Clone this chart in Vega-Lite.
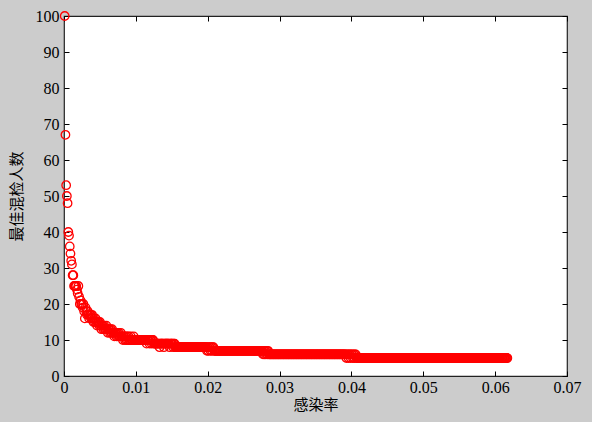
{
"$schema": "https://vega.github.io/schema/vega-lite/v6.json",
"width": 503,
"height": 360,
"autosize": {"type": "none"},
"padding": {"left": 64, "top": 16, "right": 25, "bottom": 46},
"background": "#cccccc",
"view": {"fill": "white", "stroke": "#222222", "strokeWidth": 1.2},
"config": {
  "axis": {"domain": false, "grid": false, "ticks": true, "tickColor": "black", "tickSize": -5, "tickWidth": 1, "labelFont": "Liberation Serif", "labelFontSize": 16, "labelColor": "black", "labelFlush": false, "labelOverlap": false, "titleFont": "Noto Sans CJK SC", "titleFontSize": 15, "titleFontWeight": "normal", "titleColor": "black"}
},
"layer": [
  {
    "data": {"values": [
{"p":0.0001,"k":100},{"p":0.0002,"k":67},{"p":0.0003,"k":53},{"p":0.0004,"k":50},{"p":0.0005,"k":48},{"p":0.0006,"k":40},{"p":0.0007,"k":39},{"p":0.0008,"k":36},{"p":0.0009,"k":34},{"p":0.0010,"k":32},
{"p":0.0011,"k":31},{"p":0.0012,"k":28},{"p":0.0013,"k":28},{"p":0.0014,"k":25},{"p":0.0015,"k":25},{"p":0.0016,"k":25},{"p":0.0017,"k":25},{"p":0.0018,"k":24},{"p":0.0019,"k":23},{"p":0.0020,"k":25},
{"p":0.0021,"k":22},{"p":0.0022,"k":20},{"p":0.0023,"k":21},{"p":0.0024,"k":20},{"p":0.0025,"k":20},{"p":0.0026,"k":19},{"p":0.0027,"k":20},{"p":0.0028,"k":18},{"p":0.0029,"k":16},{"p":0.0030,"k":19},
{"p":0.0031,"k":18},{"p":0.0032,"k":17},{"p":0.0033,"k":18},{"p":0.0034,"k":17},{"p":0.0035,"k":16},{"p":0.0036,"k":17},{"p":0.0037,"k":17},{"p":0.0038,"k":16},{"p":0.0039,"k":17},{"p":0.0040,"k":16},
{"p":0.0041,"k":15},{"p":0.0042,"k":16},{"p":0.0043,"k":15},{"p":0.0044,"k":16},{"p":0.0045,"k":15},{"p":0.0046,"k":14},{"p":0.0047,"k":15},{"p":0.0048,"k":15},{"p":0.0049,"k":14},{"p":0.0050,"k":15},
{"p":0.0051,"k":14},{"p":0.0052,"k":13},{"p":0.0053,"k":14},{"p":0.0054,"k":14},{"p":0.0055,"k":13},{"p":0.0056,"k":14},{"p":0.0057,"k":13},{"p":0.0058,"k":13},{"p":0.0059,"k":14},{"p":0.0060,"k":13},
{"p":0.0061,"k":12},{"p":0.0062,"k":13},{"p":0.0063,"k":13},{"p":0.0064,"k":12},{"p":0.0065,"k":13},{"p":0.0066,"k":12},{"p":0.0067,"k":13},{"p":0.0068,"k":12},{"p":0.0069,"k":12},{"p":0.0070,"k":11},
{"p":0.0071,"k":12},{"p":0.0072,"k":12},{"p":0.0073,"k":11},{"p":0.0074,"k":12},{"p":0.0075,"k":11},{"p":0.0076,"k":12},{"p":0.0077,"k":11},{"p":0.0078,"k":11},{"p":0.0079,"k":12},{"p":0.0080,"k":11},
{"p":0.0081,"k":11},{"p":0.0082,"k":10},{"p":0.0083,"k":11},{"p":0.0084,"k":11},{"p":0.0085,"k":10},{"p":0.0086,"k":11},{"p":0.0087,"k":10},{"p":0.0088,"k":11},{"p":0.0089,"k":10},{"p":0.0090,"k":11},
{"p":0.0091,"k":10},{"p":0.0092,"k":10},{"p":0.0093,"k":11},{"p":0.0094,"k":10},{"p":0.0095,"k":10},{"p":0.0096,"k":10},{"p":0.0097,"k":11},{"p":0.0098,"k":10},{"p":0.0099,"k":10},{"p":0.0100,"k":10},
{"p":0.0101,"k":10},{"p":0.0102,"k":10},{"p":0.0103,"k":10},{"p":0.0104,"k":10},{"p":0.0105,"k":10},{"p":0.0106,"k":10},{"p":0.0107,"k":10},{"p":0.0108,"k":10},{"p":0.0109,"k":10},{"p":0.0110,"k":10},
{"p":0.0111,"k":10},{"p":0.0112,"k":10},{"p":0.0113,"k":10},{"p":0.0114,"k":10},{"p":0.0115,"k":9},{"p":0.0116,"k":10},{"p":0.0117,"k":10},{"p":0.0118,"k":10},{"p":0.0119,"k":9},{"p":0.0120,"k":10},
{"p":0.0121,"k":10},{"p":0.0122,"k":9},{"p":0.0123,"k":10},{"p":0.0124,"k":10},{"p":0.0125,"k":9},{"p":0.0126,"k":9},{"p":0.0127,"k":9},{"p":0.0128,"k":9},{"p":0.0129,"k":9},{"p":0.0130,"k":9},
{"p":0.0131,"k":9},{"p":0.0132,"k":9},{"p":0.0133,"k":8},{"p":0.0134,"k":9},{"p":0.0135,"k":9},{"p":0.0136,"k":9},{"p":0.0137,"k":9},{"p":0.0138,"k":9},{"p":0.0139,"k":8},{"p":0.0140,"k":9},
{"p":0.0141,"k":9},{"p":0.0142,"k":9},{"p":0.0143,"k":9},{"p":0.0144,"k":9},{"p":0.0145,"k":9},{"p":0.0146,"k":9},{"p":0.0147,"k":8},{"p":0.0148,"k":9},{"p":0.0149,"k":9},{"p":0.0150,"k":9},
{"p":0.0151,"k":9},{"p":0.0152,"k":8},{"p":0.0153,"k":9},{"p":0.0154,"k":9},{"p":0.0155,"k":8},{"p":0.0156,"k":8},{"p":0.0157,"k":8},{"p":0.0158,"k":8},{"p":0.0159,"k":8},{"p":0.0160,"k":8},
{"p":0.0161,"k":8},{"p":0.0162,"k":8},{"p":0.0163,"k":8},{"p":0.0164,"k":8},{"p":0.0165,"k":8},{"p":0.0166,"k":8},{"p":0.0167,"k":8},{"p":0.0168,"k":8},{"p":0.0169,"k":8},{"p":0.0170,"k":8},
{"p":0.0171,"k":8},{"p":0.0172,"k":8},{"p":0.0173,"k":8},{"p":0.0174,"k":8},{"p":0.0175,"k":8},{"p":0.0176,"k":8},{"p":0.0177,"k":8},{"p":0.0178,"k":8},{"p":0.0179,"k":8},{"p":0.0180,"k":8},
{"p":0.0181,"k":8},{"p":0.0182,"k":8},{"p":0.0183,"k":8},{"p":0.0184,"k":8},{"p":0.0185,"k":8},{"p":0.0186,"k":8},{"p":0.0187,"k":8},{"p":0.0188,"k":8},{"p":0.0189,"k":8},{"p":0.0190,"k":8},
{"p":0.0191,"k":8},{"p":0.0192,"k":8},{"p":0.0193,"k":8},{"p":0.0194,"k":8},{"p":0.0195,"k":8},{"p":0.0196,"k":8},{"p":0.0197,"k":8},{"p":0.0198,"k":8},{"p":0.0199,"k":7},{"p":0.0200,"k":8},
{"p":0.0201,"k":7},{"p":0.0202,"k":8},{"p":0.0203,"k":8},{"p":0.0204,"k":7},{"p":0.0205,"k":8},{"p":0.0206,"k":7},{"p":0.0207,"k":8},{"p":0.0208,"k":8},{"p":0.0209,"k":7},{"p":0.0210,"k":7},
{"p":0.0211,"k":7},{"p":0.0212,"k":7},{"p":0.0213,"k":7},{"p":0.0214,"k":7},{"p":0.0215,"k":7},{"p":0.0216,"k":7},{"p":0.0217,"k":7},{"p":0.0218,"k":7},{"p":0.0219,"k":7},{"p":0.0220,"k":7},
{"p":0.0221,"k":7},{"p":0.0222,"k":7},{"p":0.0223,"k":7},{"p":0.0224,"k":7},{"p":0.0225,"k":7},{"p":0.0226,"k":7},{"p":0.0227,"k":7},{"p":0.0228,"k":7},{"p":0.0229,"k":7},{"p":0.0230,"k":7},
{"p":0.0231,"k":7},{"p":0.0232,"k":7},{"p":0.0233,"k":7},{"p":0.0234,"k":7},{"p":0.0235,"k":7},{"p":0.0236,"k":7},{"p":0.0237,"k":7},{"p":0.0238,"k":7},{"p":0.0239,"k":7},{"p":0.0240,"k":7},
{"p":0.0241,"k":7},{"p":0.0242,"k":7},{"p":0.0243,"k":7},{"p":0.0244,"k":7},{"p":0.0245,"k":7},{"p":0.0246,"k":7},{"p":0.0247,"k":7},{"p":0.0248,"k":7},{"p":0.0249,"k":7},{"p":0.0250,"k":7},
{"p":0.0251,"k":7},{"p":0.0252,"k":7},{"p":0.0253,"k":7},{"p":0.0254,"k":7},{"p":0.0255,"k":7},{"p":0.0256,"k":7},{"p":0.0257,"k":7},{"p":0.0258,"k":7},{"p":0.0259,"k":7},{"p":0.0260,"k":7},
{"p":0.0261,"k":7},{"p":0.0262,"k":7},{"p":0.0263,"k":7},{"p":0.0264,"k":7},{"p":0.0265,"k":7},{"p":0.0266,"k":7},{"p":0.0267,"k":7},{"p":0.0268,"k":7},{"p":0.0269,"k":7},{"p":0.0270,"k":7},
{"p":0.0271,"k":7},{"p":0.0272,"k":7},{"p":0.0273,"k":7},{"p":0.0274,"k":7},{"p":0.0275,"k":7},{"p":0.0276,"k":7},{"p":0.0277,"k":6},{"p":0.0278,"k":7},{"p":0.0279,"k":6},{"p":0.0280,"k":7},
{"p":0.0281,"k":6},{"p":0.0282,"k":7},{"p":0.0283,"k":6},{"p":0.0284,"k":7},{"p":0.0285,"k":6},{"p":0.0286,"k":6},{"p":0.0287,"k":6},{"p":0.0288,"k":6},{"p":0.0289,"k":6},{"p":0.0290,"k":6},
{"p":0.0291,"k":6},{"p":0.0292,"k":6},{"p":0.0293,"k":6},{"p":0.0294,"k":6},{"p":0.0295,"k":6},{"p":0.0296,"k":6},{"p":0.0297,"k":6},{"p":0.0298,"k":6},{"p":0.0299,"k":6},{"p":0.0300,"k":6},
{"p":0.0301,"k":6},{"p":0.0302,"k":6},{"p":0.0303,"k":6},{"p":0.0304,"k":6},{"p":0.0305,"k":6},{"p":0.0306,"k":6},{"p":0.0307,"k":6},{"p":0.0308,"k":6},{"p":0.0309,"k":6},{"p":0.0310,"k":6},
{"p":0.0311,"k":6},{"p":0.0312,"k":6},{"p":0.0313,"k":6},{"p":0.0314,"k":6},{"p":0.0315,"k":6},{"p":0.0316,"k":6},{"p":0.0317,"k":6},{"p":0.0318,"k":6},{"p":0.0319,"k":6},{"p":0.0320,"k":6},
{"p":0.0321,"k":6},{"p":0.0322,"k":6},{"p":0.0323,"k":6},{"p":0.0324,"k":6},{"p":0.0325,"k":6},{"p":0.0326,"k":6},{"p":0.0327,"k":6},{"p":0.0328,"k":6},{"p":0.0329,"k":6},{"p":0.0330,"k":6},
{"p":0.0331,"k":6},{"p":0.0332,"k":6},{"p":0.0333,"k":6},{"p":0.0334,"k":6},{"p":0.0335,"k":6},{"p":0.0336,"k":6},{"p":0.0337,"k":6},{"p":0.0338,"k":6},{"p":0.0339,"k":6},{"p":0.0340,"k":6},
{"p":0.0341,"k":6},{"p":0.0342,"k":6},{"p":0.0343,"k":6},{"p":0.0344,"k":6},{"p":0.0345,"k":6},{"p":0.0346,"k":6},{"p":0.0347,"k":6},{"p":0.0348,"k":6},{"p":0.0349,"k":6},{"p":0.0350,"k":6},
{"p":0.0351,"k":6},{"p":0.0352,"k":6},{"p":0.0353,"k":6},{"p":0.0354,"k":6},{"p":0.0355,"k":6},{"p":0.0356,"k":6},{"p":0.0357,"k":6},{"p":0.0358,"k":6},{"p":0.0359,"k":6},{"p":0.0360,"k":6},
{"p":0.0361,"k":6},{"p":0.0362,"k":6},{"p":0.0363,"k":6},{"p":0.0364,"k":6},{"p":0.0365,"k":6},{"p":0.0366,"k":6},{"p":0.0367,"k":6},{"p":0.0368,"k":6},{"p":0.0369,"k":6},{"p":0.0370,"k":6},
{"p":0.0371,"k":6},{"p":0.0372,"k":6},{"p":0.0373,"k":6},{"p":0.0374,"k":6},{"p":0.0375,"k":6},{"p":0.0376,"k":6},{"p":0.0377,"k":6},{"p":0.0378,"k":6},{"p":0.0379,"k":6},{"p":0.0380,"k":6},
{"p":0.0381,"k":6},{"p":0.0382,"k":6},{"p":0.0383,"k":6},{"p":0.0384,"k":6},{"p":0.0385,"k":6},{"p":0.0386,"k":6},{"p":0.0387,"k":6},{"p":0.0388,"k":6},{"p":0.0389,"k":6},{"p":0.0390,"k":6},
{"p":0.0391,"k":6},{"p":0.0392,"k":6},{"p":0.0393,"k":5},{"p":0.0394,"k":6},{"p":0.0395,"k":6},{"p":0.0396,"k":5},{"p":0.0397,"k":6},{"p":0.0398,"k":6},{"p":0.0399,"k":5},{"p":0.0400,"k":6},
{"p":0.0401,"k":6},{"p":0.0402,"k":5},{"p":0.0403,"k":6},{"p":0.0404,"k":5},{"p":0.0405,"k":6},{"p":0.0406,"k":6},{"p":0.0407,"k":5},{"p":0.0408,"k":5},{"p":0.0409,"k":5},{"p":0.0410,"k":5},
{"p":0.0411,"k":5},{"p":0.0412,"k":5},{"p":0.0413,"k":5},{"p":0.0414,"k":5},{"p":0.0415,"k":5},{"p":0.0416,"k":5},{"p":0.0417,"k":5},{"p":0.0418,"k":5},{"p":0.0419,"k":5},{"p":0.0420,"k":5},
{"p":0.0421,"k":5},{"p":0.0422,"k":5},{"p":0.0423,"k":5},{"p":0.0424,"k":5},{"p":0.0425,"k":5},{"p":0.0426,"k":5},{"p":0.0427,"k":5},{"p":0.0428,"k":5},{"p":0.0429,"k":5},{"p":0.0430,"k":5},
{"p":0.0431,"k":5},{"p":0.0432,"k":5},{"p":0.0433,"k":5},{"p":0.0434,"k":5},{"p":0.0435,"k":5},{"p":0.0436,"k":5},{"p":0.0437,"k":5},{"p":0.0438,"k":5},{"p":0.0439,"k":5},{"p":0.0440,"k":5},
{"p":0.0441,"k":5},{"p":0.0442,"k":5},{"p":0.0443,"k":5},{"p":0.0444,"k":5},{"p":0.0445,"k":5},{"p":0.0446,"k":5},{"p":0.0447,"k":5},{"p":0.0448,"k":5},{"p":0.0449,"k":5},{"p":0.0450,"k":5},
{"p":0.0451,"k":5},{"p":0.0452,"k":5},{"p":0.0453,"k":5},{"p":0.0454,"k":5},{"p":0.0455,"k":5},{"p":0.0456,"k":5},{"p":0.0457,"k":5},{"p":0.0458,"k":5},{"p":0.0459,"k":5},{"p":0.0460,"k":5},
{"p":0.0461,"k":5},{"p":0.0462,"k":5},{"p":0.0463,"k":5},{"p":0.0464,"k":5},{"p":0.0465,"k":5},{"p":0.0466,"k":5},{"p":0.0467,"k":5},{"p":0.0468,"k":5},{"p":0.0469,"k":5},{"p":0.0470,"k":5},
{"p":0.0471,"k":5},{"p":0.0472,"k":5},{"p":0.0473,"k":5},{"p":0.0474,"k":5},{"p":0.0475,"k":5},{"p":0.0476,"k":5},{"p":0.0477,"k":5},{"p":0.0478,"k":5},{"p":0.0479,"k":5},{"p":0.0480,"k":5},
{"p":0.0481,"k":5},{"p":0.0482,"k":5},{"p":0.0483,"k":5},{"p":0.0484,"k":5},{"p":0.0485,"k":5},{"p":0.0486,"k":5},{"p":0.0487,"k":5},{"p":0.0488,"k":5},{"p":0.0489,"k":5},{"p":0.0490,"k":5},
{"p":0.0491,"k":5},{"p":0.0492,"k":5},{"p":0.0493,"k":5},{"p":0.0494,"k":5},{"p":0.0495,"k":5},{"p":0.0496,"k":5},{"p":0.0497,"k":5},{"p":0.0498,"k":5},{"p":0.0499,"k":5},{"p":0.0500,"k":5},
{"p":0.0501,"k":5},{"p":0.0502,"k":5},{"p":0.0503,"k":5},{"p":0.0504,"k":5},{"p":0.0505,"k":5},{"p":0.0506,"k":5},{"p":0.0507,"k":5},{"p":0.0508,"k":5},{"p":0.0509,"k":5},{"p":0.0510,"k":5},
{"p":0.0511,"k":5},{"p":0.0512,"k":5},{"p":0.0513,"k":5},{"p":0.0514,"k":5},{"p":0.0515,"k":5},{"p":0.0516,"k":5},{"p":0.0517,"k":5},{"p":0.0518,"k":5},{"p":0.0519,"k":5},{"p":0.0520,"k":5},
{"p":0.0521,"k":5},{"p":0.0522,"k":5},{"p":0.0523,"k":5},{"p":0.0524,"k":5},{"p":0.0525,"k":5},{"p":0.0526,"k":5},{"p":0.0527,"k":5},{"p":0.0528,"k":5},{"p":0.0529,"k":5},{"p":0.0530,"k":5},
{"p":0.0531,"k":5},{"p":0.0532,"k":5},{"p":0.0533,"k":5},{"p":0.0534,"k":5},{"p":0.0535,"k":5},{"p":0.0536,"k":5},{"p":0.0537,"k":5},{"p":0.0538,"k":5},{"p":0.0539,"k":5},{"p":0.0540,"k":5},
{"p":0.0541,"k":5},{"p":0.0542,"k":5},{"p":0.0543,"k":5},{"p":0.0544,"k":5},{"p":0.0545,"k":5},{"p":0.0546,"k":5},{"p":0.0547,"k":5},{"p":0.0548,"k":5},{"p":0.0549,"k":5},{"p":0.0550,"k":5},
{"p":0.0551,"k":5},{"p":0.0552,"k":5},{"p":0.0553,"k":5},{"p":0.0554,"k":5},{"p":0.0555,"k":5},{"p":0.0556,"k":5},{"p":0.0557,"k":5},{"p":0.0558,"k":5},{"p":0.0559,"k":5},{"p":0.0560,"k":5},
{"p":0.0561,"k":5},{"p":0.0562,"k":5},{"p":0.0563,"k":5},{"p":0.0564,"k":5},{"p":0.0565,"k":5},{"p":0.0566,"k":5},{"p":0.0567,"k":5},{"p":0.0568,"k":5},{"p":0.0569,"k":5},{"p":0.0570,"k":5},
{"p":0.0571,"k":5},{"p":0.0572,"k":5},{"p":0.0573,"k":5},{"p":0.0574,"k":5},{"p":0.0575,"k":5},{"p":0.0576,"k":5},{"p":0.0577,"k":5},{"p":0.0578,"k":5},{"p":0.0579,"k":5},{"p":0.0580,"k":5},
{"p":0.0581,"k":5},{"p":0.0582,"k":5},{"p":0.0583,"k":5},{"p":0.0584,"k":5},{"p":0.0585,"k":5},{"p":0.0586,"k":5},{"p":0.0587,"k":5},{"p":0.0588,"k":5},{"p":0.0589,"k":5},{"p":0.0590,"k":5},
{"p":0.0591,"k":5},{"p":0.0592,"k":5},{"p":0.0593,"k":5},{"p":0.0594,"k":5},{"p":0.0595,"k":5},{"p":0.0596,"k":5},{"p":0.0597,"k":5},{"p":0.0598,"k":5},{"p":0.0599,"k":5},{"p":0.0600,"k":5},
{"p":0.0601,"k":5},{"p":0.0602,"k":5},{"p":0.0603,"k":5},{"p":0.0604,"k":5},{"p":0.0605,"k":5},{"p":0.0606,"k":5},{"p":0.0607,"k":5},{"p":0.0608,"k":5},{"p":0.0609,"k":5},{"p":0.0610,"k":5},
{"p":0.0611,"k":5},{"p":0.0612,"k":5},{"p":0.0613,"k":5},{"p":0.0614,"k":5},{"p":0.0615,"k":5},{"p":0.0616,"k":5},{"p":0.0617,"k":5}
    ]},
    "mark": {"type": "point", "shape": "circle", "filled": false, "color": "#ff0000", "size": 72, "strokeWidth": 1.3, "opacity": 1},
    "encoding": {
      "x": {"field": "p", "type": "quantitative", "scale": {"domain": [0, 0.07], "nice": false, "zero": true},
            "axis": {"orient": "bottom", "values": [0, 0.01, 0.02, 0.03, 0.04, 0.05, 0.06, 0.07], "labelExpr": "datum.value == 0 ? '0' : format(datum.value, '.2f')", "labelPadding": 8, "title": "感染率", "titlePadding": 2}},
      "y": {"field": "k", "type": "quantitative", "scale": {"domain": [0, 100], "nice": false},
            "axis": {"orient": "left", "values": [0, 10, 20, 30, 40, 50, 60, 70, 80, 90, 100], "labelPadding": 10, "title": "最佳混检人数", "titlePadding": 11}}
    }
  },
  {
    "data": {"values": [{"p": 0, "k": 0}]},
    "mark": {"type": "point", "opacity": 0},
    "encoding": {
      "x": {"field": "p", "type": "quantitative", "axis": {"orient": "top", "labels": false, "title": null, "values": [0, 0.01, 0.02, 0.03, 0.04, 0.05, 0.06, 0.07]}},
      "y": {"field": "k", "type": "quantitative", "axis": {"orient": "right", "labels": false, "title": null, "values": [0, 10, 20, 30, 40, 50, 60, 70, 80, 90, 100]}}
    }
  }
],
"resolve": {"axis": {"x": "independent", "y": "independent"}}
}
